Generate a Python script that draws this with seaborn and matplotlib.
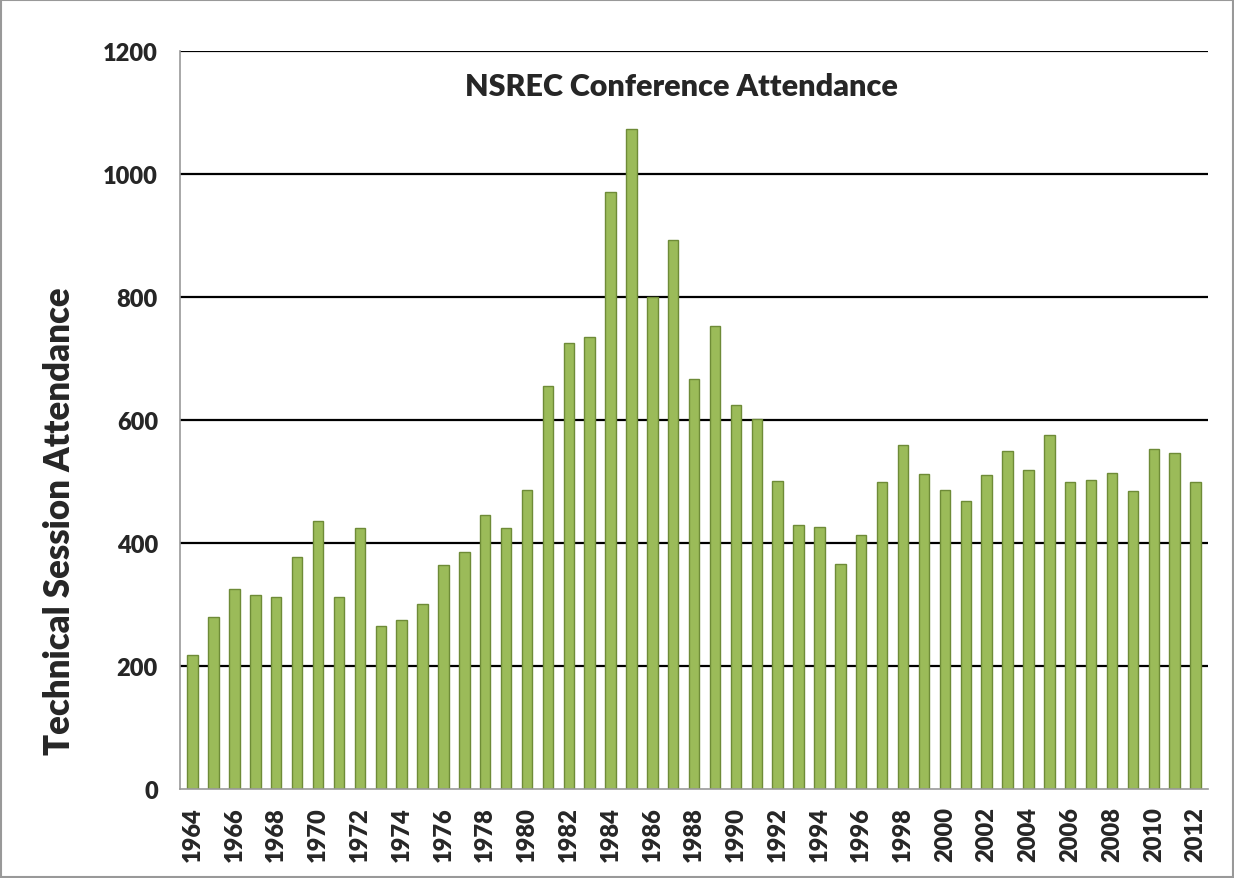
import matplotlib
matplotlib.use("Agg")
import matplotlib.pyplot as plt
import seaborn as sns
import pandas as pd
import numpy as np

years = list(range(1964, 2013))
attendance = [218, 280, 325, 315, 312, 377, 436, 312, 425, 265,
              275, 301, 365, 385, 445, 425, 486, 655, 725, 735,
              970, 1073, 800, 892, 667, 753, 624, 601, 501, 429,
              426, 366, 413, 500, 559, 513, 487, 469, 511, 549,
              518, 576, 499, 502, 514, 484, 553, 546, 499]

title = "NSREC Conference Attendance"
ylabel = "Technical Session Attendance"
yticks = [0, 200, 400, 600, 800, 1000, 1200]

sns.set_theme(style="white")
plt.rcParams['font.family'] = ['Lato', 'DejaVu Sans']

df = pd.DataFrame({"year": [str(y) for y in years], "value": attendance})

fig = plt.figure(figsize=(12.34, 8.79), dpi=100)
ax = fig.add_axes([0.146, 0.101, 0.833, 0.840])

for yv in yticks[1:]:
    ax.axhline(yv, color="black", lw=1.6, zorder=0)

sns.barplot(data=df, x="year", y="value", color="#9BBB59", width=0.5,
            edgecolor="#6E8B37", linewidth=1.0, saturation=1, ax=ax, zorder=2)

ax.set_ylim(0, 1200)
ax.set_xlim(-0.6, len(years) - 0.4)
ax.set_yticks(yticks)
ax.set_yticklabels([str(v) for v in yticks], fontsize=17, fontweight="heavy")
ax.tick_params(axis="y", length=0, pad=16)
ax.set_xticks(range(0, len(years), 2))
ax.set_xticklabels([str(y) for y in years[::2]], rotation=90, fontsize=17,
                   fontweight="heavy")
ax.tick_params(axis="x", length=0, pad=12)
ax.set_xlabel("")
ax.set_ylabel("")
fig.text(60 / 1234, 1 - 521 / 879, ylabel, rotation=90, ha="center", va="center",
         fontsize=25, fontweight="heavy")
ax.text(0.488, 0.953, title, transform=ax.transAxes, ha="center", va="center",
        fontsize=22, fontweight="heavy")

for s in ["top", "right"]:
    ax.spines[s].set_visible(False)
ax.spines["left"].set_color("#999999")
ax.spines["left"].set_linewidth(1.2)
ax.spines["bottom"].set_color("#999999")
ax.spines["bottom"].set_linewidth(1.2)

fig.patches.append(plt.Rectangle((0.001, 0.001), 0.998, 0.998, transform=fig.transFigure,
                                 fill=False, edgecolor="#999999", lw=1.5))

fig.savefig("out.png", dpi=100, facecolor="white")
